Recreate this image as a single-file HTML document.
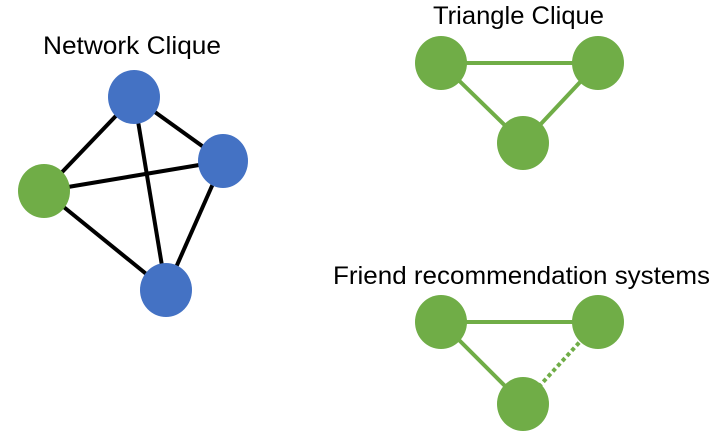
<!DOCTYPE html>
<html><head><style>body{margin:0;background:#fff}</style></head><body>
<svg width="721" height="445" xmlns="http://www.w3.org/2000/svg" style="display:block">
<g font-family="Liberation Sans, sans-serif" font-size="25" fill="#000">
<text x="43" y="54" textLength="178" lengthAdjust="spacingAndGlyphs">Network Clique</text>
<text x="433" y="24" textLength="171" lengthAdjust="spacingAndGlyphs">Triangle Clique</text>
<text x="333" y="284" textLength="377" lengthAdjust="spacingAndGlyphs">Friend recommendation systems</text>
</g>
<g stroke="#000" stroke-width="4">
<line x1="134" y1="97" x2="44" y2="191"/>
<line x1="134" y1="97" x2="223" y2="161"/>
<line x1="134" y1="97" x2="166" y2="290"/>
<line x1="44" y1="191" x2="223" y2="161"/>
<line x1="44" y1="191" x2="166" y2="290"/>
<line x1="223" y1="161" x2="166" y2="290"/>
</g>
<g fill="#4472c4">
<ellipse cx="134" cy="97" rx="26" ry="27"/>
<ellipse cx="223" cy="161" rx="25" ry="27"/>
<ellipse cx="166" cy="290" rx="26" ry="27"/>
</g>
<ellipse cx="44" cy="191" rx="26" ry="27" fill="#70ad47"/>
<g stroke="#70ad47" stroke-width="4">
<line x1="441" y1="63" x2="598" y2="63"/>
<line x1="441" y1="63" x2="523" y2="143"/>
<line x1="598" y1="63" x2="523" y2="143"/>
<line x1="441" y1="322" x2="598" y2="322"/>
<line x1="441" y1="322" x2="523" y2="404"/>
<line x1="598" y1="322" x2="523" y2="404" stroke-dasharray="4 3"/>
</g>
<g fill="#70ad47">
<ellipse cx="441" cy="63" rx="26" ry="27"/>
<ellipse cx="598" cy="63" rx="26" ry="27"/>
<ellipse cx="523" cy="143" rx="26" ry="27"/>
<ellipse cx="441" cy="322" rx="26" ry="27"/>
<ellipse cx="598" cy="322" rx="26" ry="27"/>
<ellipse cx="523" cy="404" rx="26" ry="27"/>
</g>
</svg>
</body></html>
